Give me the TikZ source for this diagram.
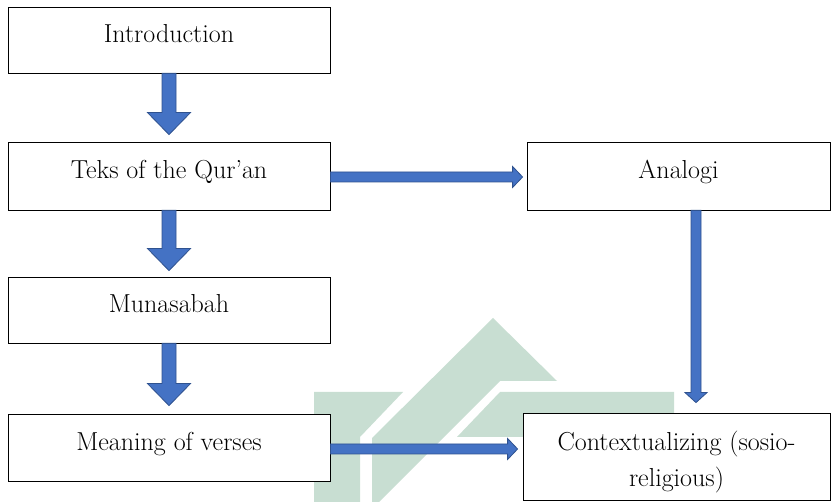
\documentclass[tikz,border=0pt]{standalone}
\usepackage{fontspec}
\usetikzlibrary{calc}
\definecolor{arrowfill}{RGB}{68,114,196}
\definecolor{arrowdraw}{RGB}{47,82,143}
\definecolor{wmark}{RGB}{200,222,210}
\tikzset{
  box/.style={draw=black, line width=0.8pt, fill=white, inner sep=0pt,
    font=\fontsize{26}{36}\selectfont, text height=18pt, text depth=12pt},
  blockarrow/.style={fill=arrowfill, draw=arrowdraw, line width=0.8pt, line join=miter},
  wm/.style={fill=wmark}
}
% #1 start, #2 tip, #3 shaft half width, #4 head half width, #5 head length
\newcommand\myblockarrow[5]{%
  \coordinate (hb) at ($(#2)!#5!(#1)$);
  \draw[blockarrow] ($(#1)!#3!90:(#2)$) -- ($(hb)!#3!-90:(#1)$) -- ($(hb)!#4!-90:(#1)$)
    -- (#2) -- ($(hb)!#4!90:(#1)$) -- ($(hb)!#3!90:(#1)$) -- ($(#1)!#3!-90:(#2)$) -- cycle;
}
\begin{document}
\begin{tikzpicture}[x=1pt,y=-1pt]
\useasboundingbox (0,0) rectangle (831,502);
% watermark
\fill[wm] (314,392) -- (403,392) -- (360,437) -- (360,502) -- (314,502) -- cycle;
\fill[wm] (372,502) -- (372,438) -- (493,318) -- (557,381) -- (500,381) -- (379,502) -- cycle;
\fill[wm] (500,392) -- (674,392) -- (674,437) -- (457,437) -- cycle;
% boxes
\node[box, minimum width=322pt, minimum height=66pt] (intro) at (169,40) {Introduction};
\node[box, minimum width=322pt, minimum height=68pt] (teks) at (169,176) {Teks of the Qur’an};
\node[box, minimum width=322pt, minimum height=66pt] (muna) at (169,310) {Munasabah};
\node[box, minimum width=322pt, minimum height=67pt] (meaning) at (169,447.5) {Meaning of verses};
\node[box, minimum width=303pt, minimum height=68pt] (analogi) at (678.5,176) {Analogi};
\node[box, minimum width=307pt, minimum height=87pt, text depth=29pt] (context) at (676.5,456.5)
  {\begin{tabular}[t]{@{}c@{}}Contextualizing (sosio-\\religious)\end{tabular}};
% connectors
\coordinate (a1s) at (intro.south);
\coordinate (a1e) at ($(teks.north)+(0,-7)$);
\myblockarrow{a1s}{a1e}{7pt}{21.5pt}{22pt}
\coordinate (a2s) at (teks.south);
\coordinate (a2e) at ($(muna.north)+(0,-6)$);
\myblockarrow{a2s}{a2e}{7pt}{21.5pt}{22pt}
\coordinate (a3s) at (muna.south);
\coordinate (a3e) at ($(meaning.north)+(0,-8)$);
\myblockarrow{a3s}{a3e}{7pt}{21.5pt}{22pt}
\coordinate (h1s) at ($(teks.east)+(0,1)$);
\coordinate (h1e) at ($(h1s -| analogi.west)+(-4,0)$);
\myblockarrow{h1s}{h1e}{5pt}{10.5pt}{10pt}
\coordinate (h2s) at ($(meaning.east)+(0,1.5)$);
\coordinate (h2e) at ($(h2s -| context.west)+(-5,0)$);
\myblockarrow{h2s}{h2e}{5pt}{10.5pt}{10pt}
\coordinate (v1s) at ($(analogi.south)+(17.5,0)$);
\coordinate (v1e) at ($(v1s |- context.north)+(0,-10)$);
\myblockarrow{v1s}{v1e}{5pt}{11pt}{10pt}
\end{tikzpicture}
\end{document}
